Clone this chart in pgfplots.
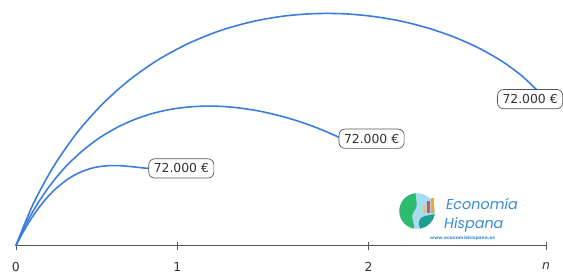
\documentclass[border=0pt]{standalone}
\usepackage{fontspec}
\setmainfont{DejaVu Sans}
\newfontfamily\logofont{Poppins}
\usepackage{pgfplots}
\pgfplotsset{compat=1.18}
\definecolor{curve}{HTML}{3B7DDD}
\definecolor{axisgray}{HTML}{555555}
\definecolor{txtgray}{HTML}{333333}
\definecolor{logoblue}{HTML}{3A8AD0}
\definecolor{logoteal}{HTML}{1E9E8E}
\definecolor{logolight}{HTML}{A8DCEF}
\definecolor{logogreen}{HTML}{2DBB6E}
\definecolor{logoyellow}{HTML}{F2C744}
\definecolor{logored}{HTML}{E5475C}
\definecolor{logoorange}{HTML}{F5A623}
\tikzset{lbl/.style={draw=axisgray, fill=white, rounded corners=6pt, line width=0.7pt,
   inner xsep=5pt, inner ysep=5pt, text=txtgray, font=\fontsize{12.5}{14}\selectfont}}
\begin{document}
\fontsize{12}{14}\selectfont
\begin{tikzpicture}
\begin{axis}[
 scale only axis, width=563pt, height=275pt,
 xmin=-16, xmax=547, ymin=-27, ymax=248,
 axis x line=middle, axis y line=none,
 x axis line style={draw=none},
 xtick={0,163,356,535}, xticklabels={0,1,2,\textit{n}},
 tick align=center, major tick length=8pt,
 tick style={axisgray, line width=0.6pt},
 xticklabel style={font=\fontsize{12.5}{14}\selectfont, text=txtgray, yshift=-9pt},
 clip=false,
 /pgf/number format/assume math mode=true,
]
\path (axis cs:-16,-27) rectangle (axis cs:547,248);
\addplot[axisgray, line width=0.8pt] coordinates {(0,0) (535,0)};
% large
\addplot[curve, line width=1.6pt, smooth] coordinates {
(0,0) (18.0,43.2) (38.9,81.3) (62.2,114.6) (87.7,143.3) (115.1,167.7) (144.0,187.9)
(174.1,204.1) (205.0,216.7) (236.5,225.7) (268.3,231.5) (299.9,234.2) (331.0,234.1)
(361.5,231.3) (390.8,226.2) (418.8,218.8) (445.0,209.5) (469.1,198.5) (490.9,185.9)
(510.0,172.0) (526,157)};
% medium
\addplot[curve, line width=1.6pt, smooth] coordinates {
(0,0) (11.8,24.8) (24.7,46.8) (38.6,66.2) (53.4,83.0) (69.0,97.3) (85.2,109.4)
(102.0,119.3) (119.3,127.2) (136.9,133.2) (154.9,137.4) (173.0,139.9) (191.2,140.9)
(209.3,140.5) (227.3,138.8) (245.1,136.0) (262.6,132.1) (279.6,127.4) (296.1,121.9)
(311.9,115.7) (327,109)};
% small
\addplot[curve, line width=1.6pt, smooth] coordinates {
(0,0) (7.5,14.1) (15.0,26.6) (22.5,37.4) (29.9,46.7) (37.3,54.7) (44.7,61.3)
(51.9,66.8) (59.1,71.2) (66.2,74.7) (73.3,77.25) (80.1,79.1) (86.9,80.2) (93.5,80.8)
(100.0,80.9) (106.3,80.7) (112.4,80.2) (118.4,79.65) (124.1,79.0) (129.7,78.4) (135,78)};
\node[lbl] at (axis cs:167,78) {72.000 €};
\node[lbl] at (axis cs:359,108) {72.000 €};
\node[lbl] at (axis cs:519,148) {72.000 €};
\coordinate (L) at (axis cs:405,35);
\node[text=logoblue, font=\logofont\itshape\fontsize{14.5}{16}\selectfont, anchor=west] at (axis cs:430,42) {Economía};
\node[text=logoblue, font=\logofont\itshape\fontsize{14.5}{16}\selectfont, anchor=west] at (axis cs:428,21) {Hispana};
\node[text=logoblue, font=\bfseries\fontsize{4.5}{5}\selectfont] at (axis cs:451,8) {www.economiahispana.es};
\end{axis}
% logo icon
\begin{scope}[shift={(L)}]
\fill[logolight] (0,0) circle[radius=18pt];
\fill[logogreen] (95:18pt) arc[start angle=95,end angle=260,radius=18pt]
  .. controls (-2pt,-14pt) and (-8pt,-4pt) .. (-3pt,0pt)
  .. controls (2pt,4pt) and (-2pt,12pt) .. cycle;
\fill[logoteal] (-10:18pt) arc[start angle=-10,end angle=-80,radius=18pt]
  .. controls (0pt,-12pt) and (2pt,-6pt) .. (8pt,-5pt) -- cycle;
\fill[logoyellow] (6pt,-2pt) rectangle (9pt,6pt);
\fill[logored] (10pt,-2pt) rectangle (13pt,10pt);
\fill[logoorange] (14pt,-2pt) rectangle (16.5pt,13pt);
\end{scope}
\end{tikzpicture}
\end{document}
